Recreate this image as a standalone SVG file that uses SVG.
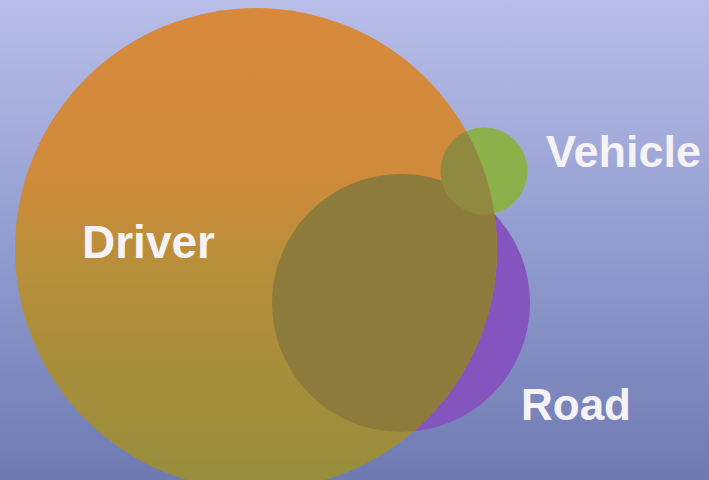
<svg xmlns="http://www.w3.org/2000/svg" width="709" height="480" viewBox="0 0 709 480">
  <defs>
    <linearGradient id="bg" x1="0" y1="0" x2="0" y2="1">
      <stop offset="0" stop-color="#b8bee8"/>
      <stop offset="0.5" stop-color="#929dd0"/>
      <stop offset="1" stop-color="#6e7ab2"/>
    </linearGradient>
    <linearGradient id="driverFill" x1="0" y1="0" x2="0" y2="1">
      <stop offset="0" stop-color="#d8893c"/>
      <stop offset="0.35" stop-color="#cf8b3a"/>
      <stop offset="0.55" stop-color="#b68f3a"/>
      <stop offset="1" stop-color="#958d3c"/>
    </linearGradient>
    <clipPath id="driverClip">
      <circle cx="256" cy="249" r="241"/>
    </clipPath>
    <style>
      .label { font-family: "Liberation Sans", Arial, sans-serif; font-weight: bold; font-size: 44px; fill: #f5f3f7; }
    </style>
  </defs>

  <rect width="709" height="480" fill="url(#bg)"/>

  <g id="road">
    <circle cx="401" cy="303" r="129" fill="#8455bf"/>
  </g>

  <g id="vehicle">
    <circle cx="484" cy="171" r="43.5" fill="#8cb04a"/>
  </g>

  <g id="driver">
    <circle cx="256" cy="249" r="241" fill="url(#driverFill)"/>
    <!-- overlaps drawn inside the driver disc -->
    <g clip-path="url(#driverClip)">
      <circle cx="401" cy="303" r="129" fill="#8d7b3b"/>
      <circle cx="484" cy="171" r="43.5" fill="#8f8a40"/>
    </g>
  </g>

  <g id="labels">
    <text class="label" x="82" y="258" style="font-size:46px">Driver</text>
    <text class="label" x="546" y="167" style="font-size:45px">Vehicle</text>
    <text class="label" x="521" y="420">Road</text>
  </g>
</svg>
